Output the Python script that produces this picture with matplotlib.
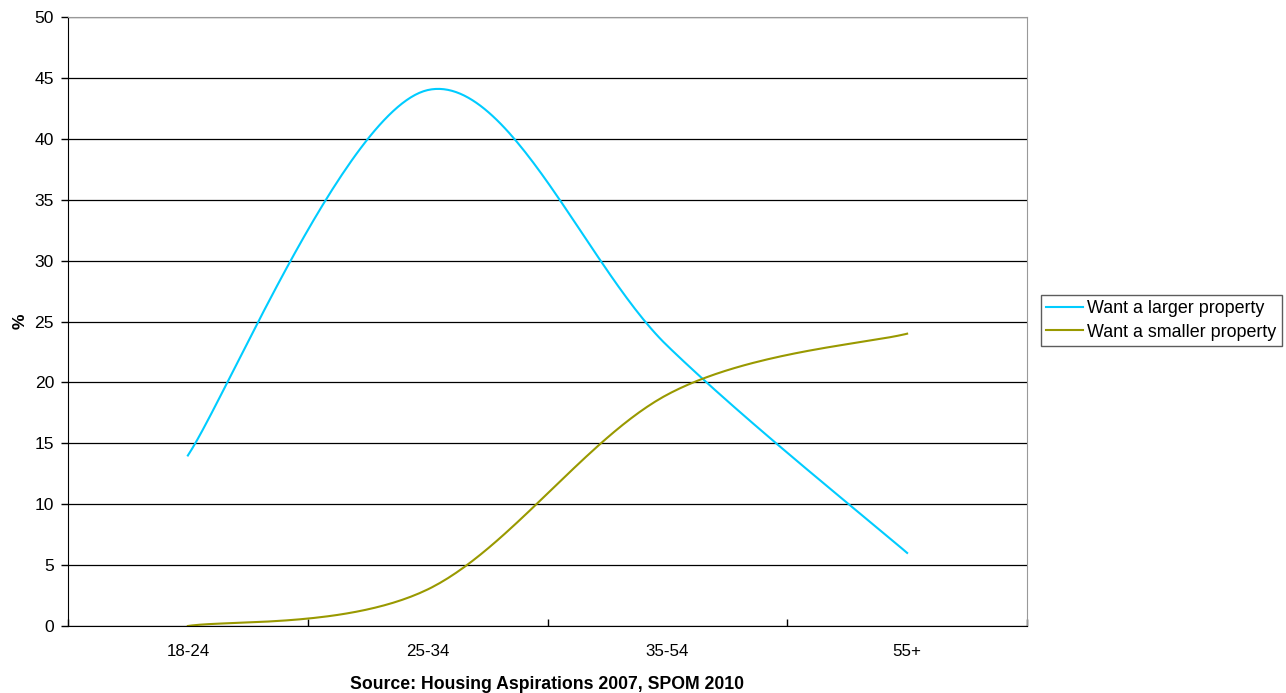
import numpy as np
import matplotlib
matplotlib.use("Agg")
import matplotlib.pyplot as plt

plt.rcParams['font.family'] = ['Liberation Sans', 'DejaVu Sans']

categories = ['18-24', '25-34', '35-54', '55+']
larger = [14, 44, 23, 6]
smaller = [0, 3, 19, 24]


def smooth(ys, n=60):
    # Excel-style smoothed line (Catmull-Rom as cubic Bezier)
    xs = np.arange(len(ys), dtype=float)
    ys = np.asarray(ys, dtype=float)
    px = np.concatenate([[xs[0]], xs, [xs[-1]]])
    py = np.concatenate([[ys[0]], ys, [ys[-1]]])
    outx, outy = [], []
    t = np.linspace(0, 1, n)
    for i in range(1, len(px) - 2):
        p0 = np.array([px[i], py[i]])
        p3 = np.array([px[i + 1], py[i + 1]])
        p1 = p0 + (np.array([px[i + 1], py[i + 1]]) - np.array([px[i - 1], py[i - 1]])) / 6
        p2 = p3 - (np.array([px[i + 2], py[i + 2]]) - np.array([px[i], py[i]])) / 6
        b = ((1 - t) ** 3)[:, None] * p0 + (3 * (1 - t) ** 2 * t)[:, None] * p1 \
            + (3 * (1 - t) * t ** 2)[:, None] * p2 + (t ** 3)[:, None] * p3
        outx.extend(b[:, 0])
        outy.extend(b[:, 1])
    return outx, outy


fig = plt.figure(figsize=(12.86, 6.93), dpi=100)
ax = fig.add_axes([68 / 1286, 1 - 626 / 693, (1027 - 68) / 1286, (626 - 17) / 693])

x1, y1 = smooth(larger)
x2, y2 = smooth(smaller)
ax.plot(x1, y1, color='#00CCFF', lw=1.5, label='Want a larger property')
ax.plot(x2, y2, color='#999900', lw=1.5, label='Want a smaller property')

ax.set_xlim(-0.5, 3.5)
ax.set_ylim(0, 50)
ax.set_yticks(range(0, 51, 5))
ax.set_xticks(np.arange(-0.5, 3.6, 1))
ax.set_xticklabels([])
ax.set_xticks(range(len(categories)), minor=True)
ax.set_xticklabels(categories, minor=True, fontsize=12.2)
ax.tick_params(axis='x', which='minor', length=0, pad=13)
ax.tick_params(axis='x', which='major', length=5, direction='in', width=1)
ax.tick_params(axis='y', length=5, direction='out', width=1, labelsize=12.6, pad=5)
ax.grid(axis='y', color='black', lw=0.9)
ax.set_axisbelow(True)

for s in ['top', 'right']:
    ax.spines[s].set_color('#999999')
for s in ['left', 'bottom']:
    ax.spines[s].set_color('black')

ax.set_ylabel('%', fontweight='bold', fontsize=12.6, labelpad=5)
ax.set_xlabel('Source: Housing Aspirations 2007, SPOM 2010', fontweight='bold',
              fontsize=12.7, labelpad=12)

leg = fig.legend(loc='center left', bbox_to_anchor=(1041 / 1286, 1 - 320.5 / 693),
                 frameon=True, fancybox=False, edgecolor='#333333', fontsize=12.9,
                 handlelength=2.05, borderpad=0.3, labelspacing=0.35, handletextpad=0.22,
                 borderaxespad=0.0)
leg.get_frame().set_linewidth(1.0)

fig.savefig('out.png', dpi=100)
